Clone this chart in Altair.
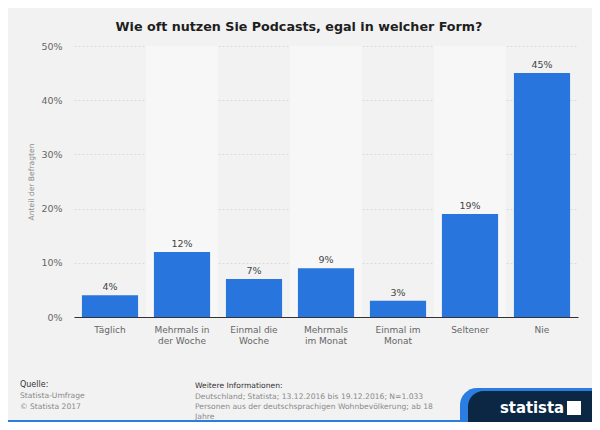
import altair as alt
import pandas as pd

# ---- data ----
categories = [
    "Täglich",
    "Mehrmals in\nder Woche",
    "Einmal die\nWoche",
    "Mehrmals\nim Monat",
    "Einmal im\nMonat",
    "Seltener",
    "Nie",
]
values = [4, 12, 7, 9, 3, 19, 45]
y_ticks = [0, 10, 20, 30, 40, 50]

title_text = "Wie oft nutzen Sie Podcasts, egal in welcher Form?"
y_title = "Anteil der Befragten"
source_lines = ["Statista-Umfrage", "© Statista 2017"]
info_lines = [
    "Deutschland; Statista; 13.12.2016 bis 19.12.2016; N=1.033",
    "Personen aus der deutschsprachigen Wohnbevölkerung; ab 18",
    "Jahre",
]

df = pd.DataFrame({"cat": categories, "val": values})
df["shade"] = [i % 2 for i in range(len(categories))]
df["lbl"] = [f"{v}%" for v in values]

FONT = "DejaVu Sans"
W, H = 504, 271
BAR = "#2876dd"

x_enc = alt.X(
    "cat:N",
    sort=categories,
    scale=alt.Scale(paddingInner=0.22, paddingOuter=0.11),
    axis=alt.Axis(
        title=None,
        labelAngle=0,
        labelExpr="split(datum.label, '\\n')",
        labelFont=FONT,
        labelFontSize=9,
        labelColor="#666666",
        labelPadding=8,
        labelLineHeight=11,
        ticks=False,
        domain=True,
        domainColor="#333333",
        domainWidth=1,
        grid=False,
    ),
)
y_enc = alt.Y(
    "val:Q",
    scale=alt.Scale(domain=[0, 50], nice=False),
    axis=alt.Axis(
        values=y_ticks,
        labelExpr="datum.value + '%'",
        title=y_title,
        titleFont=FONT,
        titleFontSize=7.6,
        titleFontWeight="normal",
        titleColor="#8a8a8a",
        titlePadding=5,
        labelFont=FONT,
        labelFontSize=9.5,
        labelColor="#666666",
        labelPadding=12,
        ticks=False,
        domain=False,
        grid=True,
        gridColor="#d6d6d6",
        gridDash=[2, 2],
        gridWidth=0.8,
    ),
)

base = alt.Chart(df)

bands = base.transform_filter("datum.shade == 1").mark_bar(
    color="#f7f7f7", width=alt.RelativeBandSize(72 / 56.16)
).encode(x=x_enc, y=alt.value(0), y2=alt.value(H))

bars = base.mark_bar(color=BAR).encode(x=x_enc, y=y_enc)

labels = base.mark_text(
    font=FONT, fontSize=9.5, color="#444444", baseline="bottom", dy=-3
).encode(x=x_enc, y=alt.Y("val:Q", scale=alt.Scale(domain=[0, 50], nice=False)), text="lbl:N")

one = alt.Data(values=[{"a": 1}])


def txt(t, x, y, size, color, weight="normal", align="left", font=FONT):
    return alt.Chart(one).mark_text(
        text=t, font=font, fontSize=size, color=color, fontWeight=weight,
        align=align, baseline="middle"
    ).encode(x=alt.value(x), y=alt.value(y))


def box(x, x2, y, y2, color, r=0):
    kw = {}
    if r:
        kw["cornerRadiusTopLeft"] = r
    return alt.Chart(one).mark_rect(color=color, **kw).encode(
        x=alt.value(x), x2=alt.value(x2), y=alt.value(y), y2=alt.value(y2)
    )


deco = [
    txt(title_text, 225, -19, 12.7, "#1e1e1e", "bold", "center"),
    txt("Quelle:", -54, 339, 8, "#333333"),
    txt(source_lines[0], -54, 350, 7.6, "#8a8a8a"),
    txt(source_lines[1], -54, 361, 7.6, "#8a8a8a"),
    txt("Weitere Informationen:", 121, 340, 7.6, "#333333"),
    txt(info_lines[0], 121, 351, 7.6, "#8a8a8a"),
    txt(info_lines[1], 121, 361, 7.6, "#8a8a8a"),
    txt(info_lines[2], 121, 370.5, 7.6, "#8a8a8a"),
    box(-66, 518, 374, 376, "#2b7de1"),
    box(386, 518, 342, 376, "#2b7de1", 32),
    box(394, 518, 345, 376, "#0c2743", 30),
    txt("statista", 458, 362, 16.5, "#ffffff", "bold", "center",
        "DejaVu Sans Condensed, sans-serif"),
    box(493, 507, 355, 369, "#ffffff"),
]

chart = alt.layer(bands, bars, labels, *deco).properties(
    width=W,
    height=H,
    background="#f2f2f2",
    autosize=alt.AutoSizeParams(type="none"),
    padding={"left": 66, "top": 38, "right": 14, "bottom": 105},
).configure_view(strokeWidth=0)

chart.save("out.html", embed_options={"renderer": "svg", "actions": False})
